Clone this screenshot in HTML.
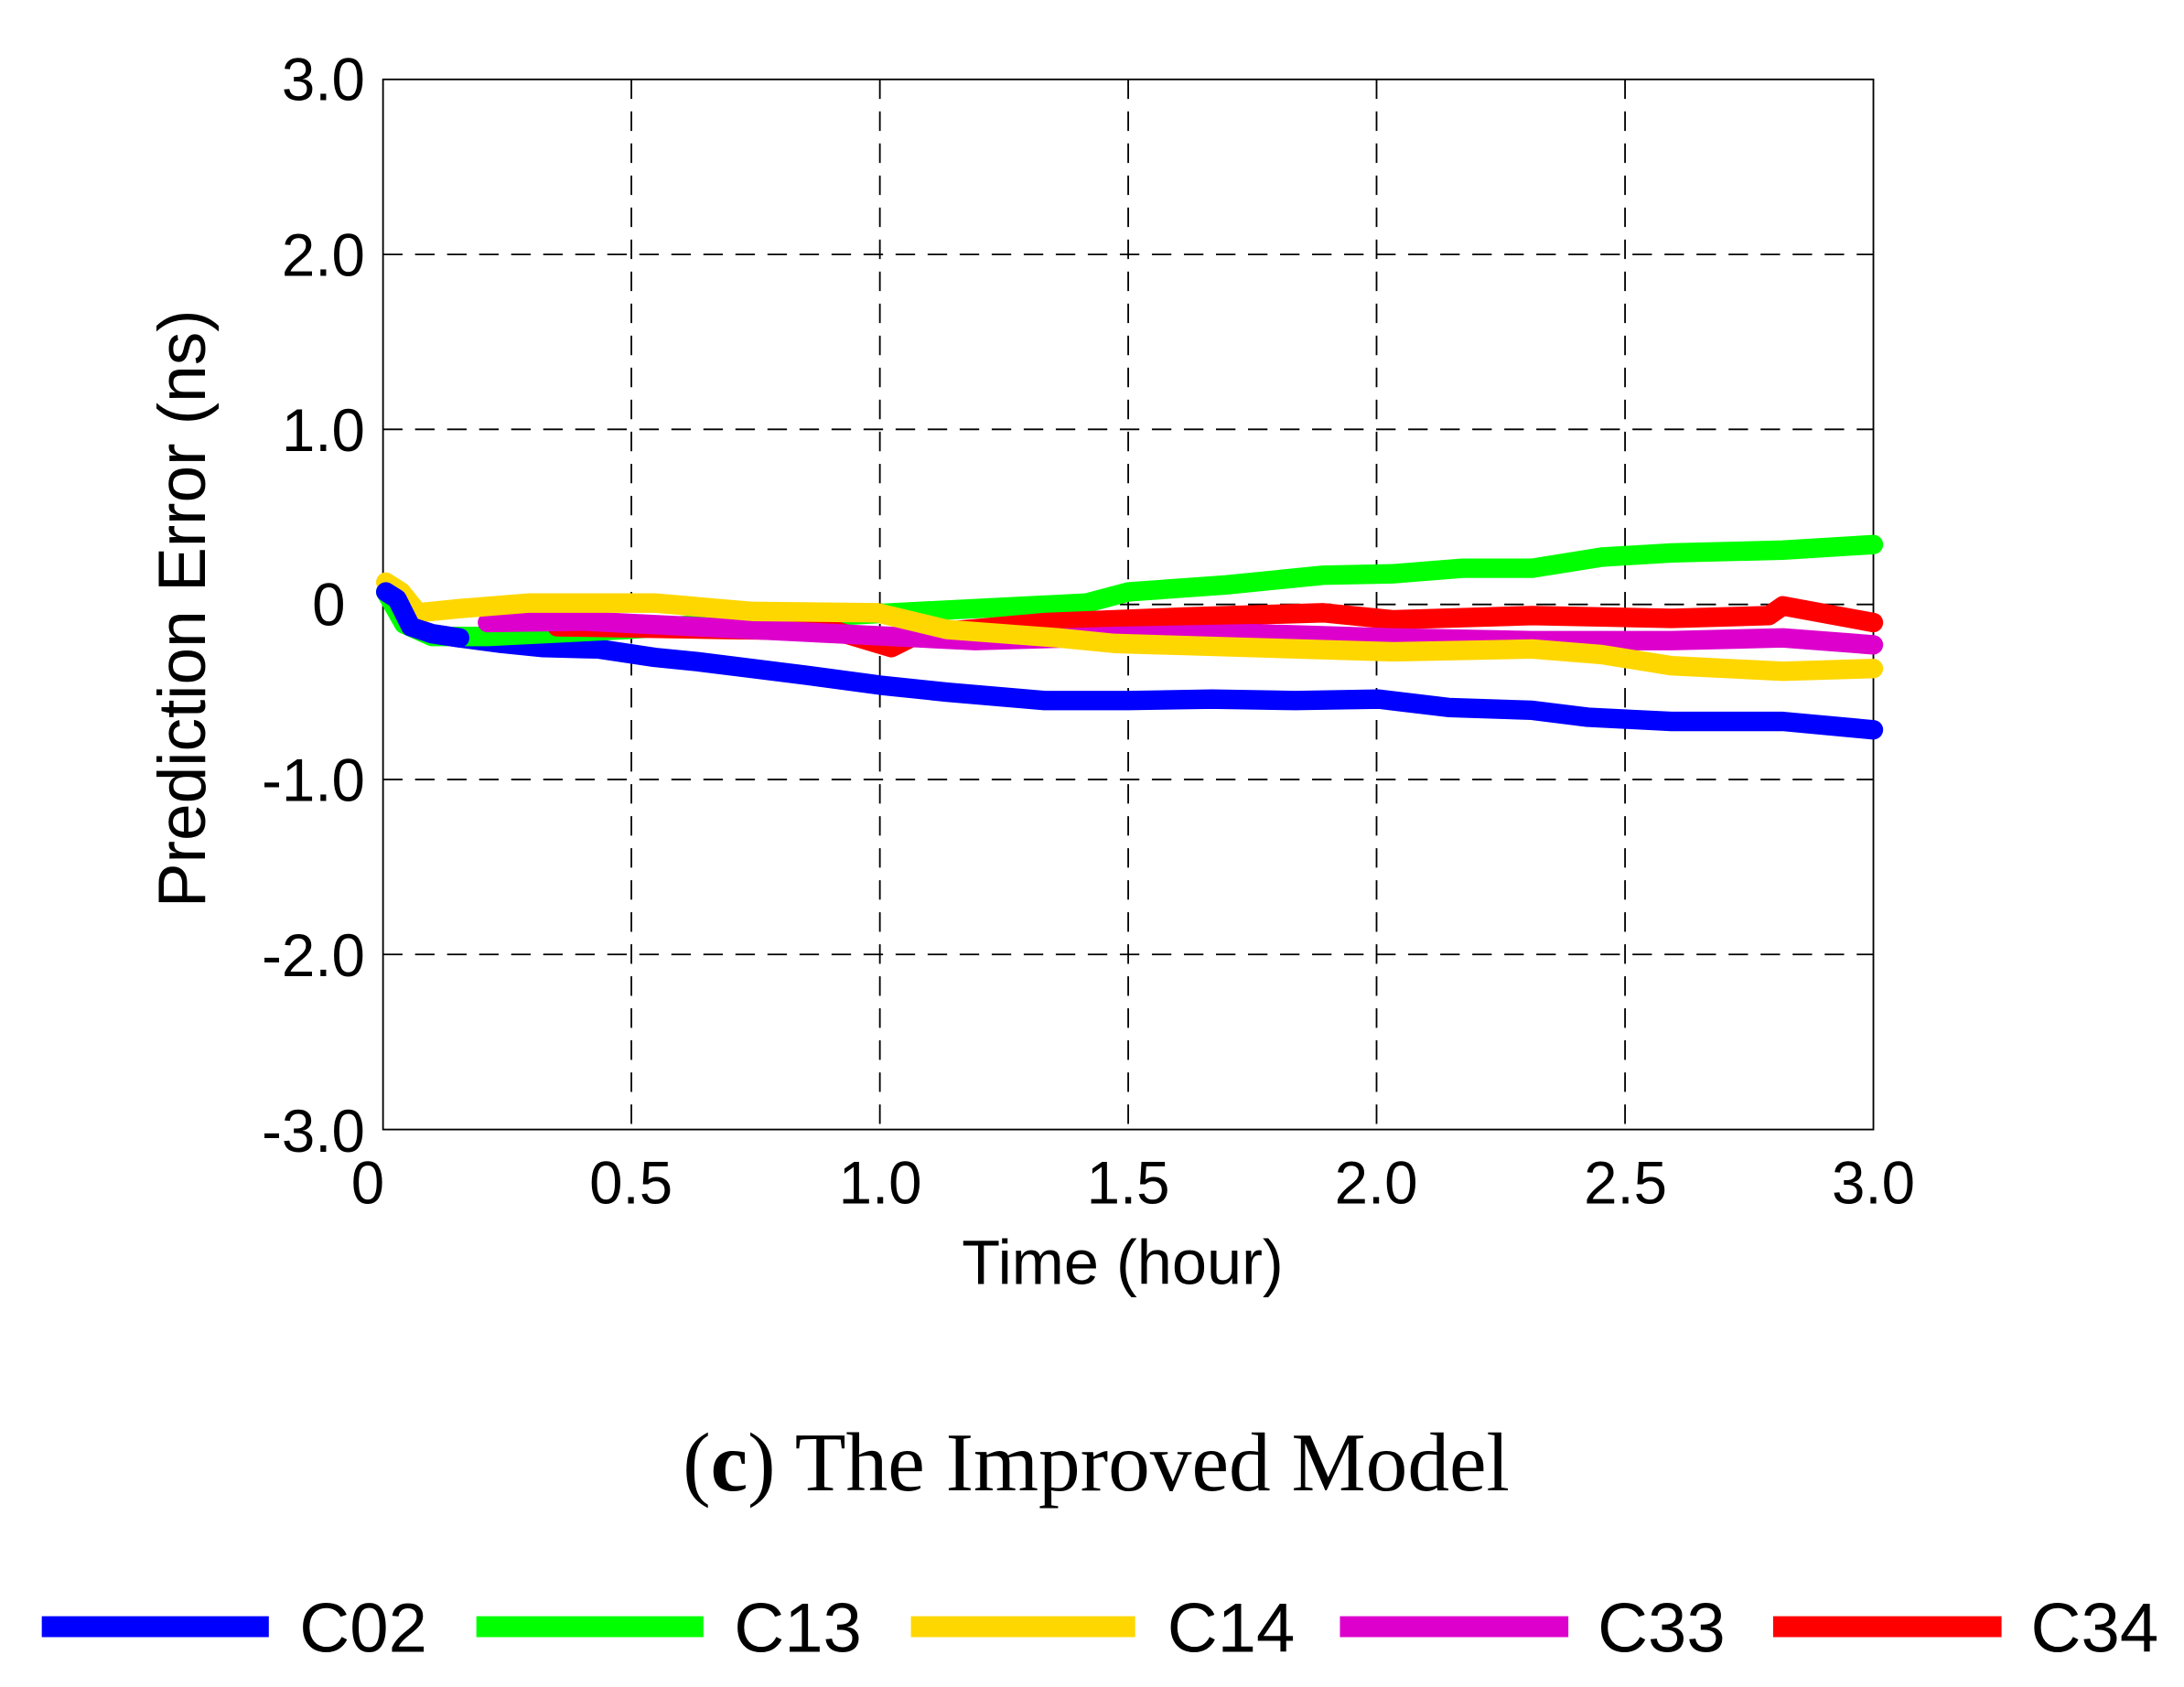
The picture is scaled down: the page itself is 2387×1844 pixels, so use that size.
<!DOCTYPE html>
<html><head><meta charset="utf-8"><style>html,body{margin:0;padding:0;background:#fff}svg{display:block}</style></head>
<body>
<svg width="2387" height="1844" viewBox="0 0 1568 1211.3" xmlns="http://www.w3.org/2000/svg">
<rect width="1568" height="1211.3" fill="#fff"/>
<g stroke="#000" stroke-width="1.2" stroke-dasharray="14,9" fill="none">
<line x1="275" y1="182.7" x2="1345" y2="182.7"/>
<line x1="275" y1="308.3" x2="1345" y2="308.3"/>
<line x1="275" y1="434" x2="1345" y2="434"/>
<line x1="275" y1="559.7" x2="1345" y2="559.7"/>
<line x1="275" y1="685.3" x2="1345" y2="685.3"/>
<line x1="453.3" y1="57" x2="453.3" y2="811"/>
<line x1="631.7" y1="57" x2="631.7" y2="811"/>
<line x1="810" y1="57" x2="810" y2="811"/>
<line x1="988.3" y1="57" x2="988.3" y2="811"/>
<line x1="1166.7" y1="57" x2="1166.7" y2="811"/>
</g>
<rect x="275" y="57" width="1070" height="754" fill="none" stroke="#000" stroke-width="1.2"/>
<g fill="none" stroke-width="14" stroke-linejoin="round" stroke-linecap="round">
<polyline stroke="#0000ff" points="277,425 285,430 295,450 310,455 330,458 360,462 390,465 430,466 470,472 500,475 540,480 580,485 632,492 680,497 750,503 810,503 870,502 930,503 990,502 1040,508 1100,510 1140,515 1200,518 1280,518 1345,524"/>
<polyline stroke="#00ff00" points="277,425 290,448 310,457 350,457 450,452 550,445 640,440 700,437 780,433 810,425 880,420 950,413 1000,412 1050,408 1100,408 1150,400 1200,397 1280,395 1345,391"/>
<polyline stroke="#ff0000" points="400,450 520,452 600,453 640,465 660,455 750,447 850,443 950,440 1000,445 1100,442 1200,444 1270,442 1280,435 1345,447"/>
<polyline stroke="#dd00cc" points="350,447 420,446 500,450 600,455 700,460 800,457 900,455 1000,458 1100,460 1200,460 1280,458 1345,463"/>
<polyline stroke="#ffd700" points="277,418 288,425 300,440 330,437 380,433 470,433 540,439 630,440 680,452 760,458 800,462 900,465 1000,468 1100,466 1150,470 1200,478 1280,482 1345,480"/>
<polyline stroke="#0000ff" points="277,425 285,430 295,450 310,455 330,458"/>
</g>
<g font-family="Liberation Sans, sans-serif" font-size="43" fill="#000">
<g text-anchor="end">
<text x="262" y="72">3.0</text>
<text x="262" y="198">2.0</text>
<text x="262" y="324">1.0</text>
<text x="248" y="449">0</text>
<text x="262" y="575">-1.0</text>
<text x="262" y="701">-2.0</text>
<text x="262" y="827">-3.0</text>
</g>
<g text-anchor="middle">
<text x="264" y="864">0</text>
<text x="453" y="864">0.5</text>
<text x="632" y="864">1.0</text>
<text x="810" y="864">1.5</text>
<text x="988" y="864">2.0</text>
<text x="1167" y="864">2.5</text>
<text x="1345" y="864">3.0</text>
<text x="806" y="922" font-size="45">Time (hour)</text>
<text transform="translate(147,437) rotate(-90)" font-size="48">Prediction Error (ns)</text>
</g>
</g>
<text x="787" y="1070" text-anchor="middle" font-family="Liberation Serif, serif" font-size="60">(<tspan font-weight="bold">c</tspan>) The Improved Model</text>
<g stroke-width="15">
<line x1="30" y1="1168" x2="193" y2="1168" stroke="#0000ff"/>
<line x1="342" y1="1168" x2="505" y2="1168" stroke="#00ff00"/>
<line x1="654" y1="1168" x2="815" y2="1168" stroke="#ffd700"/>
<line x1="962" y1="1168" x2="1126" y2="1168" stroke="#dd00cc"/>
<line x1="1273" y1="1168" x2="1437" y2="1168" stroke="#ff0000"/>
</g>
<g font-family="Liberation Sans, sans-serif" font-size="50" fill="#000">
<text x="215" y="1186">C02</text>
<text x="527" y="1186">C13</text>
<text x="838" y="1186">C14</text>
<text x="1147" y="1186">C33</text>
<text x="1458" y="1186">C34</text>
</g>
</svg>
</body></html>
